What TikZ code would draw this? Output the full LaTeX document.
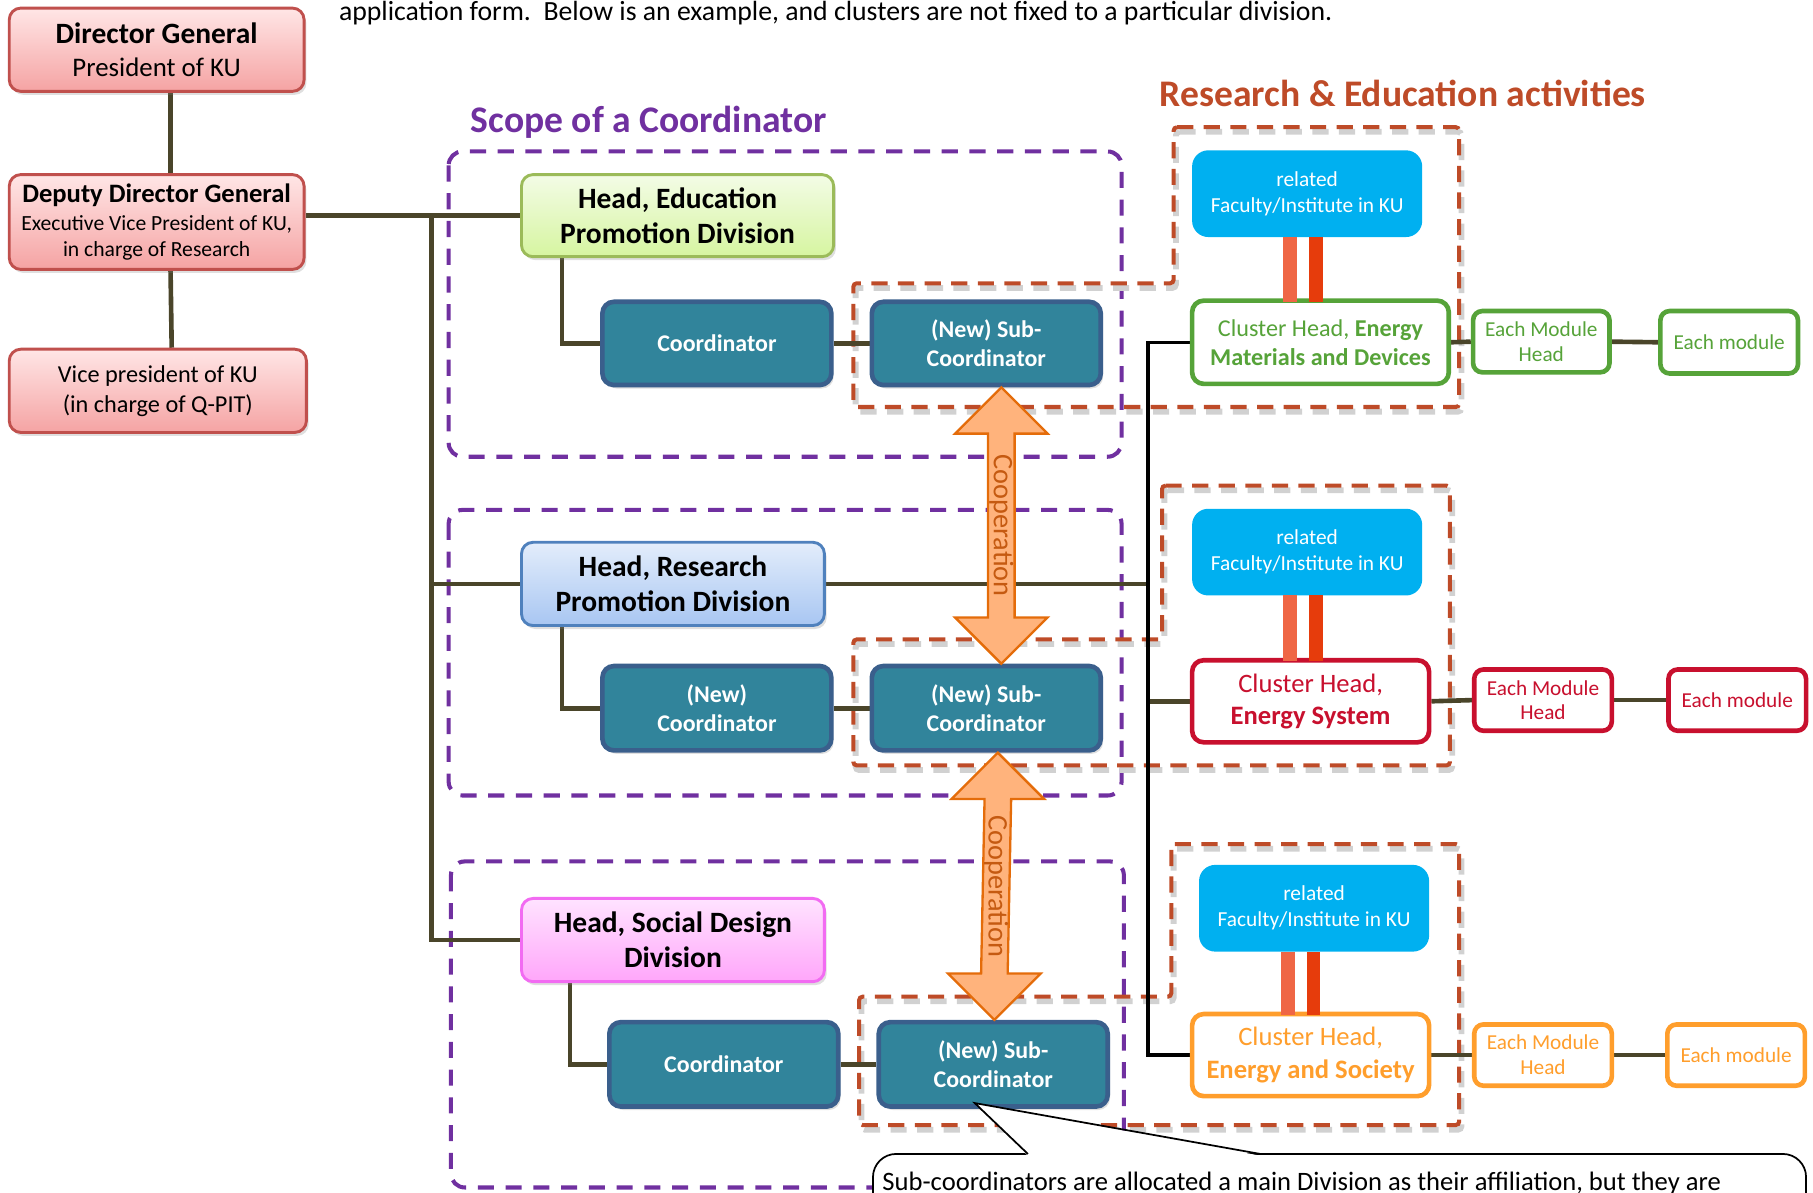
\documentclass[tikz,border=0pt]{standalone}
\usepackage{fontspec}
\setmainfont{Carlito}
\usetikzlibrary{shadows,calc}
\pgfdeclarelayer{background}
\pgfsetlayers{background,main}
\definecolor{olive}{HTML}{4A452A}
\definecolor{purp}{HTML}{7030A0}
\definecolor{rdash}{HTML}{BE4B28}
\definecolor{pinkborder}{HTML}{C0504D}
\definecolor{pinktop}{HTML}{FFE6E6}
\definecolor{pinkbot}{HTML}{F5A3A3}
\definecolor{greenborder}{HTML}{9BBB59}
\definecolor{greentop}{HTML}{F3FCE6}
\definecolor{greenbot}{HTML}{D6F5A0}
\definecolor{blueborder}{HTML}{4F81BD}
\definecolor{bluetop}{HTML}{E3EDFB}
\definecolor{bluebot}{HTML}{A8C6F2}
\definecolor{magborder}{HTML}{F26BF2}
\definecolor{magtop}{HTML}{FFE3FF}
\definecolor{magbot}{HTML}{FFA6FA}
\definecolor{coordfill}{HTML}{31849B}
\definecolor{coordborder}{HTML}{3A5F8C}
\definecolor{facblue}{HTML}{00B0F0}
\definecolor{clgreen}{HTML}{56A339}
\definecolor{clred}{HTML}{C8102E}
\definecolor{clorange}{HTML}{FF9E2C}
\definecolor{barA}{HTML}{EF6645}
\definecolor{barB}{HTML}{E63C0C}
\definecolor{arrfill}{HTML}{FFB37C}
\definecolor{arrborder}{HTML}{E46C0A}
\definecolor{arrtext}{HTML}{C55A11}
\begin{document}
\begin{tikzpicture}[x=1pt,y=-1pt,
  conn/.style={draw=olive, line width=4pt},
  blk/.style={draw=black, line width=3pt},
  shad/.style={drop shadow={opacity=0.25, shadow xshift=2pt, shadow yshift=-3pt}},
  topbox/.style={rounded corners=10pt, draw=pinkborder, line width=2.5pt, top color=pinktop, bottom color=pinkbot, minimum width=255pt, minimum height=72pt, align=center, inner sep=2pt, shad},
  headbox/.style={rounded corners=10pt, line width=2.5pt, minimum height=72pt, align=center, inner sep=2pt, font=\bfseries\fontsize{25.5}{30}\selectfont, shad},
  coordbox/.style={rounded corners=10pt, fill=coordfill, draw=coordborder, line width=4pt, minimum width=198pt, minimum height=72pt, text=white, font=\bfseries\fontsize{20.7}{25}\selectfont, align=center, shad},
  facbox/.style={rounded corners=14pt, fill=facblue, text=white, minimum width=199pt, minimum height=75pt, font=\fontsize{18.5}{22.5}\selectfont, align=center},
  clusbox/.style={rounded corners=10pt, fill=white, line width=4pt, minimum height=71pt, align=center, inner sep=2pt, font=\fontsize{23}{28}\selectfont},
  modbox/.style={rounded corners=8pt, fill=white, line width=4pt, minimum width=118pt, minimum height=53pt, font=\fontsize{18.4}{21.5}\selectfont, align=center, inner sep=1pt},
  scopebox/.style={draw=purp, line width=3.5pt, dash pattern=on 14pt off 10pt, rounded corners=12pt},
  region/.style={draw=rdash, line width=3.5pt, dash pattern=on 14pt off 9pt, rounded corners=3pt},
  regionshadow/.style={draw=black!18, line width=5pt, dash pattern=on 14pt off 9pt, rounded corners=3pt},
  coop/.style={fill=arrfill, draw=arrborder, line width=2pt, line join=miter},
  cooptext/.style={rotate=-90, text=arrtext, font=\fontsize{24.5}{28}\selectfont},
]
\path[use as bounding box, clip] (0,0) rectangle (1568,1031);

% ---- texts ----
\node[anchor=base west, font=\fontsize{24}{28}\selectfont, inner sep=0pt] (toptext) at (293,18) {application form.\ \ Below is an example, and clusters are not fixed to a particular division.};
\node[anchor=west, text=purp, font=\bfseries\fontsize{32.5}{36}\selectfont, inner sep=0pt] (scopetitle) at (407,106) {Scope of a Coordinator};
\node[anchor=west, text=rdash, font=\bfseries\fontsize{32.5}{36}\selectfont, inner sep=0pt] (retitle) at (1003,81) {Research \& Education activities};

% ---- left column ----
\node[topbox, font=\fontsize{23.2}{29}\selectfont] (DG) at (135.5,43) {{\bfseries\fontsize{25.5}{29}\selectfont Director General}\\President of KU};
\node[topbox, minimum height=82pt, font=\fontsize{18.7}{22.5}\selectfont] (DDG) at (135.5,192) {{\bfseries\fontsize{23}{25}\selectfont Deputy Director General}\\[2pt]Executive Vice President of KU,\\in charge of Research};
\node[topbox, minimum width=257pt, font=\fontsize{21}{26}\selectfont] (VP) at (136.5,338) {Vice president of KU\\(in charge of Q-PIT)};

% ---- division heads ----
\node[headbox, draw=greenborder, top color=greentop, bottom color=greenbot, minimum width=270pt, minimum height=71pt] (HeadEdu) at (586,186.5) {Head, Education\\Promotion Division};
\node[headbox, draw=blueborder, top color=bluetop, bottom color=bluebot, minimum width=262pt] (HeadRes) at (582,505) {Head, Research\\Promotion Division};
\node[headbox, draw=magborder, top color=magtop, bottom color=magbot, minimum width=262pt] (HeadSoc) at (582,813) {Head, Social Design\\Division};

% ---- coordinators ----
\node[coordbox] (Coord1) at (620,297) {Coordinator};
\node[coordbox] (Sub1) at (853,297) {(New) Sub-\\Coordinator};
\node[coordbox, minimum height=73pt] (Coord2) at (620,612.5) {(New)\\Coordinator};
\node[coordbox, minimum height=73pt] (Sub2) at (853,612.5) {(New) Sub-\\Coordinator};
\node[coordbox, minimum height=73pt] (Coord3) at (626,920.5) {Coordinator};
\node[coordbox, minimum height=73pt] (Sub3) at (859,920.5) {(New) Sub-\\Coordinator};

% ---- faculties ----
\node[facbox] (Fac1) at (1130.5,167.5) {related\\Faculty/Institute in KU};
\node[facbox] (Fac2) at (1130.5,477.5) {related\\Faculty/Institute in KU};
\node[facbox] (Fac3) at (1136.5,785.5) {related\\Faculty/Institute in KU};

% ---- clusters ----
\node[clusbox, draw=clgreen, text=clgreen, minimum width=222pt, minimum height=72pt, font=\fontsize{20.9}{25}\selectfont] (Clu1) at (1142,296) {Cluster Head, \textbf{Energy}\\\textbf{Materials and Devices}};
\node[clusbox, draw=clred, text=clred, minimum width=205pt] (Clu2) at (1133.5,606.5) {Cluster Head,\\\textbf{Energy System}};
\node[clusbox, draw=clorange, text=clorange, minimum width=205pt] (Clu3) at (1133.5,912.5) {Cluster Head,\\\textbf{Energy and Society}};

% ---- modules ----
\node[modbox, draw=clgreen, text=clgreen] (EMH1) at (1333,295.5) {Each Module\\Head};
\node[modbox, draw=clgreen, text=clgreen, minimum width=119pt, minimum height=54pt] (EM1) at (1495.5,296) {Each module};
\node[modbox, draw=clred, text=clred, minimum width=119pt] (EMH2) at (1334.5,605.5) {Each Module\\Head};
\node[modbox, draw=clred, text=clred, minimum width=119pt] (EM2) at (1502.5,605.5) {Each module};
\node[modbox, draw=clorange, text=clorange, minimum width=119pt] (EMH3) at (1334.5,912.5) {Each Module\\Head};
\node[modbox, draw=clorange, text=clorange, minimum width=119pt] (EM3) at (1501.5,912.5) {Each module};

% ---- bars between faculty and cluster ----
\fill[barA] (1110,205) rectangle (1122,261);
\fill[barB] (1132,205) rectangle (1144,261);
\fill[barA] (1110,515) rectangle (1122,572);
\fill[barB] (1132,515) rectangle (1144,572);
\fill[barA] (1108,823) rectangle (1120,878);
\fill[barB] (1130,823) rectangle (1142,878);

% ---- background: scopes, regions, connectors ----
\begin{pgfonlayer}{background}
\draw[scopebox] (388,131) rectangle (970,395);
\draw[scopebox] (388,441) rectangle (970,688);
\draw[scopebox] (390,745) rectangle (972,1027);

\begin{scope}[shift={(2,4)}]
\draw[regionshadow] (1015,110) -- (1262,110) -- (1262,352) -- (738,352) -- (738,245) -- (1015,245) -- cycle;
\draw[regionshadow] (1005,420) -- (1254,420) -- (1254,662) -- (738,662) -- (738,553) -- (1005,553) -- cycle;
\draw[regionshadow] (1013,730) -- (1262,730) -- (1262,973) -- (743,973) -- (743,862) -- (1013,862) -- cycle;
\end{scope}
\draw[region] (1015,110) -- (1262,110) -- (1262,352) -- (738,352) -- (738,245) -- (1015,245) -- cycle;
\draw[region] (1005,420) -- (1254,420) -- (1254,662) -- (738,662) -- (738,553) -- (1005,553) -- cycle;
\draw[region] (1013,730) -- (1262,730) -- (1262,973) -- (743,973) -- (743,862) -- (1013,862) -- cycle;

\draw[conn] ([xshift=12pt]DG.south) -- ([xshift=12pt]DDG.north);
\draw[conn] ([xshift=12pt]DDG.south) -- ([xshift=12pt]VP.north);
\draw[conn] (DDG.east |- HeadEdu.west) -- (HeadEdu.west);
\coordinate (trunk) at (373,0);
\draw[conn] (trunk |- HeadEdu.west) |- (HeadSoc.west);
\draw[conn] (trunk |- HeadRes.west) -- (HeadRes.west);
\draw[conn] ([xshift=-100pt]HeadEdu.south) |- (Coord1.west);
\draw[conn] ([xshift=-96pt]HeadRes.south) |- (Coord2.west);
\draw[conn] ([xshift=-89pt]HeadSoc.south) |- (Coord3.west);
\draw[conn] (Coord1.east) -- (Sub1.west);
\draw[conn] (Coord2.east) -- (Sub2.west);
\draw[conn] (Coord3.east) -- (Sub3.west);
\coordinate (bx) at (993,0);
\draw[conn] (HeadRes.east) -- (bx |- HeadRes.east);
\draw[conn] (Clu2.west) -- (bx |- Clu2.west);
\draw[blk] (Clu1.west) -| (bx |- Clu3.west) -- (Clu3.west);
\draw[conn] (Clu1.east) -- (EMH1.west);
\draw[conn] (EMH1.east) -- (EM1.west);
\draw[conn] (Clu2.east) -- (EMH2.west);
\draw[conn] (EMH2.east) -- (EM2.west);
\draw[conn] (Clu3.east) -- (EMH3.west);
\draw[conn] (EMH3.east) -- (EM3.west);
\end{pgfonlayer}

% ---- cooperation arrows ----
\coordinate (a1t) at ([xshift=13pt]Sub1.south);
\coordinate (a1b) at ([xshift=13pt]Sub2.north);
\draw[coop] (a1t) -- ++(40,40) -- ++(-28.5,0) -- ($(a1b)+(11.5,-40)$) -- ++(28.5,0) -- (a1b) -- ++(-40,-40) -- ++(28.5,0) -- ($(a1t)+(-11.5,40)$) -- ++(-28.5,0) -- cycle;
\node[cooptext] (coop1) at ($(a1t)!0.5!(a1b)$) {Cooperation};
\coordinate (a2t) at ([xshift=10pt]Sub2.south);
\coordinate (a2b) at ([xshift=1pt]Sub3.north);
\draw[coop] (a2t) -- ++(40,40) -- ++(-28.5,0) -- ($(a2b)+(11.5,-40)$) -- ++(28.5,0) -- (a2b) -- ++(-40,-40) -- ++(28.5,0) -- ($(a2t)+(-11.5,40)$) -- ++(-28.5,0) -- cycle;
\node[cooptext] (coop2) at ($(a2t)!0.5!(a2b)$) {Cooperation};

% ---- callout ----
\coordinate (tip) at ([xshift=-16pt,yshift=5pt]Sub3.south);
\draw[fill=white, draw=black, line width=1.5pt, rounded corners=20pt] (755,998) rectangle (1562,1090);
\fill[white] (tip) -- (889,999.5) -- (1090,999.5) -- cycle;
\draw[black, line width=1.5pt, line join=miter] (889,998) -- (tip) -- (1090,998);
\node[anchor=base west, font=\fontsize{23}{26}\selectfont, inner sep=0pt] (ctext) at (763,1030) {Sub-coordinators are allocated a main Division as their affiliation, but they are};
\end{tikzpicture}
\end{document}
